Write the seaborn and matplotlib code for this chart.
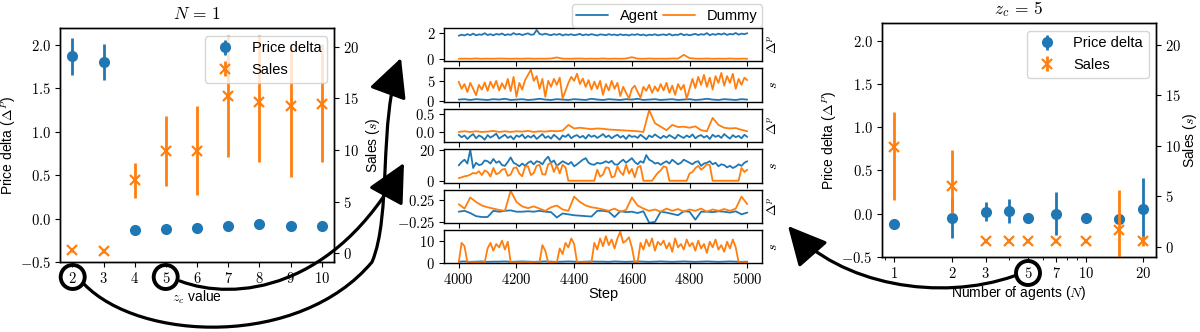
import numpy as np
import matplotlib
matplotlib.use("Agg")
import matplotlib.pyplot as plt
import seaborn as sns
from matplotlib.path import Path
from matplotlib.patches import FancyArrowPatch, Ellipse

# ---------------- data: left panel (N = 1) ----------------
zc_values = [2, 3, 4, 5, 6, 7, 8, 9, 10]
left_price = [1.866, 1.80, -0.128, -0.12, -0.11, -0.08, -0.055, -0.085, -0.08]
left_price_err = [0.21, 0.21, 0.02, 0.02, 0.02, 0.02, 0.02, 0.02, 0.02]
left_sales = [0.3, 0.26, 7.1, 9.9, 9.9, 15.2, 14.6, 14.3, 14.5]
left_sales_err_lo = [0.2, 0.2, 1.7, 3.4, 4.3, 5.85, 5.8, 6.9, 5.7]
left_sales_err_hi = [0.2, 0.2, 1.6, 3.4, 4.4, 5.9, 6.5, 6.0, 5.8]

# ---------------- data: right panel (z_c = 5) ----------------
n_agents = [1, 2, 3, 4, 5, 7, 10, 15, 20]
right_price = [-0.12, -0.05, 0.025, 0.03, -0.05, 0.0, -0.055, -0.06, 0.06]
right_price_err = [0.02, 0.23, 0.105, 0.135, 0.02, 0.25, 0.02, 0.02, 0.355]
right_sales = [9.9, 6.05, 0.6, 0.6, 0.6, 0.6, 0.6, 1.65, 0.6]
right_sales_err_lo = [5.3, 2.7, 0.2, 0.2, 0.2, 0.2, 0.2, 3.95, 0.5]
right_sales_err_hi = [3.5, 3.55, 0.2, 0.2, 0.2, 0.2, 0.2, 3.95, 0.5]

# ---------------- data: middle time series ----------------
steps10 = list(range(4000, 5001, 10))
steps20 = list(range(4000, 5001, 20))

p1_agent = [1.76, 1.84, 1.78, 1.88, 1.80, 1.92, 1.79, 1.86, 1.83, 1.95, 1.81,
            1.88, 1.79, 1.90, 1.84, 1.93, 1.80, 1.87, 1.82, 1.96, 1.85,
            1.90, 1.81, 1.88, 1.94, 1.83, 1.86, 2.20, 1.90, 1.84, 1.92,
            1.85, 1.80, 1.88, 1.83, 1.90, 1.78, 1.86, 1.82, 1.87, 1.80,
            1.84, 1.90, 1.79, 1.86, 1.81, 1.88, 1.83, 1.78, 1.86, 1.84,
            1.80, 1.88, 1.82, 1.85, 1.79, 1.87, 1.81, 1.84, 1.78, 1.86,
            1.82, 1.88, 1.80, 1.85, 1.77, 1.84, 1.81, 1.87, 1.79, 1.83,
            1.86, 1.80, 1.90, 1.78, 1.84, 1.82, 1.92, 1.80, 1.86, 1.79,
            1.85, 1.90, 1.81, 1.88, 1.84, 1.96, 1.80, 1.89, 1.83, 1.92,
            1.85, 1.94, 1.82, 1.90, 1.86, 1.97, 1.84, 1.92, 1.88, 1.95]
p1_dummy = [0.0, 0.01, 0.0, 0.02, 0.0, 0.01, 0.0, 0.02, 0.01, 0.0,
            0.01, 0.0, 0.02, 0.0, 0.01, 0.0, 0.02, 0.10, 0.01, 0.0,
            0.01, 0.02, 0.0, 0.01, 0.0, 0.02, 0.0, 0.01, 0.0, 0.02,
            0.12, 0.01, 0.0, 0.02, 0.0, 0.01, 0.0, 0.02, 0.01, 0.30,
            0.05, 0.01, 0.0, 0.02, 0.0, 0.01, 0.0, 0.02, 0.0, 0.01,
            0.0]

p2_agent = [0.3, 0.4, 0.2, 0.4, 0.3, 0.2, 0.4, 0.3, 0.5, 0.2,
            0.3, 0.4, 0.2, 0.3, 0.5, 0.3, 0.2, 0.4, 0.3, 0.2,
            0.4, 0.3, 0.2, 0.5, 0.3, 0.2, 0.4, 0.3, 0.2, 0.4,
            0.3, 0.5, 0.2, 0.3, 0.4, 0.2, 0.3, 0.4, 0.2, 0.3,
            0.4, 0.2, 0.3, 0.5, 0.3, 0.2, 0.4, 0.3, 0.2, 0.4,
            0.3]
p2_dummy = [4.8, 3.0, 4.2, 2.2, 4.5, 3.0, 1.4, 4.0, 2.8, 4.6, 2.5,
            4.8, 3.2, 5.0, 2.6, 4.4, 3.0, 5.5, 2.4, 6.0, 1.0,
            4.5, 2.8, 5.2, 6.5, 7.8, 5.0, 6.2, 3.0, 5.5, 1.0,
            5.0, 3.5, 5.5, 4.0, 5.8, 0.6, 2.5, 4.5, 6.0, 5.0,
            6.8, 4.2, 5.6, 3.5, 5.2, 2.8, 4.8, 3.0, 5.0, 1.5,
            4.2, 2.6, 5.0, 3.0, 4.5, 1.2, 3.5, 2.0, 0.6, 3.0,
            3.8, 2.2, 0.8, 3.5, 2.5, 4.0, 2.0, 3.6, 2.4, 4.2,
            2.6, 4.5, 2.0, 3.8, 1.5, 4.2, 2.8, 4.0, 0.5, 3.0,
            5.5, 3.2, 6.0, 4.0, 6.5, 3.5, 5.8, 2.8, 6.2, 4.5,
            7.0, 3.8, 6.2, 4.5, 6.8, 3.0, 5.5, 4.0, 5.8, 5.2]

p3_agent = [-0.08, -0.15, -0.10, -0.20, -0.12, -0.06, -0.18, -0.10, -0.14, -0.22, -0.09,
            -0.16, -0.11, -0.05, -0.19, -0.13, -0.08, -0.17, -0.12, -0.21, -0.10,
            -0.14, -0.07, -0.18, -0.11, -0.16, -0.09, -0.20, -0.13, -0.06, -0.17,
            -0.12, -0.19, -0.08, -0.15, -0.22, -0.10, -0.14, -0.07, -0.18, -0.12,
            -0.09, -0.16, -0.11, -0.19, -0.08, -0.14, -0.10, -0.17, -0.12, -0.06,
            -0.15, -0.10, -0.18, -0.12, -0.08, -0.16, -0.11, -0.20, -0.09, -0.14,
            -0.12, -0.17, -0.08, -0.14, -0.21, -0.10, -0.15, -0.07, -0.13, -0.18,
            -0.11, -0.16, -0.09, -0.14, -0.19, -0.08, -0.13, -0.17, -0.10, -0.15,
            -0.07, -0.18, -0.12, -0.09, -0.16, -0.11, -0.20, -0.08, -0.14, -0.10,
            -0.17, -0.06, -0.13, -0.19, -0.09, -0.15, -0.11, -0.18, -0.08, -0.14]
p3_dummy = [0.0, 0.02, 0.0, 0.02, 0.0, 0.01, 0.03, 0.0, 0.02, 0.0,
            0.02, 0.01, 0.03, 0.0, 0.02, 0.01, 0.03, 0.02, 0.04, 0.20,
            0.10, 0.12, 0.10, 0.08, 0.10, 0.09, 0.07, 0.06, 0.05, 0.04,
            0.03, 0.02, 0.0, 0.62, 0.25, 0.15, 0.05, 0.20, 0.14, 0.15,
            0.12, 0.16, 0.05, 0.02, 0.40, 0.20, 0.12, 0.10, 0.11, 0.06,
            0.02]

p4_agent = [10.3, 12.5, 14.0, 11.5, 20.4, 8.6, 12.0, 10.5, 11.0, 13.5, 13.0,
            11.5, 14.5, 12.0, 13.0, 10.5, 10.0, 12.5, 15.5, 12.0, 11.0,
            9.7, 11.5, 10.0, 12.0, 13.0, 11.0, 13.0, 12.5, 11.0, 14.0,
            16.0, 12.0, 13.5, 10.0, 11.5, 13.0, 12.0, 11.0, 12.5, 9.7,
            11.0, 12.5, 14.0, 15.0, 12.0, 11.0, 10.7, 12.0, 11.5, 12.0,
            13.0, 12.0, 13.3, 11.0, 10.7, 12.5, 14.0, 12.0, 13.5, 15.0,
            12.5, 11.0, 13.0, 12.0, 17.0, 14.0, 13.0, 11.5, 12.0, 10.7,
            12.0, 13.0, 11.5, 14.0, 12.5, 11.0, 12.0, 14.0, 13.0, 12.0,
            11.0, 12.5, 13.0, 10.0, 11.5, 12.0, 13.0, 11.0, 12.0, 9.7,
            11.0, 10.5, 9.0, 10.0, 8.6, 9.5, 11.0, 10.0, 12.0, 13.0]
p4_dummy = [2.0, 2.5, 3.2, 3.5, 4.3, 5.4, 5.0, 6.5, 4.0, 7.0, 6.0,
            3.0, 8.6, 4.5, 5.4, 7.5, 8.0, 3.5, 4.3, 8.5, 9.0,
            5.0, 3.2, 9.5, 9.7, 4.0, 5.4, 10.0, 10.7, 4.5, 4.3,
            11.0, 11.8, 6.0, 10.3, 5.0, 10.7, 9.0, 0.3, 0.3, 0.3,
            0.3, 0.3, 0.3, 0.3, 0.3, 0.3, 0.3, 7.5, 3.0, 4.3,
            9.0, 8.6, 2.5, 3.2, 9.7, 6.0, 4.0, 10.7, 5.0, 8.0,
            2.5, 9.0, 10.0, 0.3, 0.3, 0.3, 0.3, 3.0, 5.5, 7.0,
            9.7, 9.0, 0.3, 0.3, 0.3, 0.3, 0.3, 0.3, 0.3, 5.0,
            6.0, 8.5, 10.0, 7.5, 9.0, 11.0, 10.5, 0.3, 0.3, 0.3,
            0.3, 0.3, 0.3, 0.3, 0.3, 0.3, 0.3, 8.6, 6.0, 7.5]

p5_agent = [-0.02, 0.0, -0.05, -0.12, -0.14, -0.14, 0.0, -0.02, 0.0, 0.01,
            -0.02, -0.02, -0.01, -0.02, 0.0, -0.02, -0.03, -0.15, -0.06, -0.08,
            -0.10, -0.11, -0.12, -0.13, 0.0, 0.0, -0.02, -0.14, -0.01, -0.03,
            -0.02, -0.05, -0.01, -0.27, -0.25, -0.02, -0.04, -0.07, -0.10, -0.01,
            -0.02, -0.20, -0.02, -0.02, -0.03, -0.01, -0.02, -0.04, -0.01, -0.08,
            -0.04]
p5_dummy = [0.15, 0.05, 0.30, 0.20, 0.12, 0.08, 0.05, 0.02, 0.0, 0.45,
            0.20, 0.10, 0.06, 0.10, 0.05, 0.0, 0.08, 0.12, 0.03, 0.0,
            0.32, 0.20, 0.12, 0.08, 0.06, 0.03, 0.0, 0.05, -0.02, 0.02,
            0.30, 0.12, 0.05, 0.0, 0.03, -0.02, 0.05, 0.0, 0.04, -0.02,
            0.03, 0.0, 0.05, -0.02, 0.03, 0.0, 0.04, 0.0, 0.05, 0.32,
            0.15]

p6_agent = [0.6, 0.7, 0.5, 0.6, 0.7, 0.5, 0.6, 0.6, 0.7, 0.5,
            0.6, 0.7, 0.6, 0.5, 0.6, 0.7, 0.6, 0.5, 0.6, 0.7,
            0.6, 0.5, 0.6, 0.7, 0.6, 0.6, 0.5, 0.7, 0.6, 0.5,
            0.6, 0.7, 0.6, 0.5, 0.6, 0.7, 0.6, 0.5, 0.6, 0.7,
            0.6, 0.5, 0.6, 0.7, 0.6, 0.5, 0.6, 0.7, 0.6, 0.5,
            0.6]
p6_dummy = [0.3, 9.0, 7.5, 0.3, 0.3, 0.3, 0.3, 0.3, 0.3, 0.3, 6.5,
            9.0, 5.5, 8.5, 7.0, 10.0, 6.0, 9.5, 0.3, 0.3, 0.3,
            0.3, 0.3, 0.3, 0.3, 0.3, 0.3, 0.3, 0.3, 8.0, 5.5,
            0.3, 0.3, 0.3, 0.3, 6.5, 4.0, 9.0, 7.0, 11.0, 8.5,
            0.3, 0.3, 0.3, 0.3, 0.3, 0.3, 9.0, 6.0, 11.0, 7.5,
            12.0, 8.0, 10.5, 6.5, 11.0, 14.0, 9.0, 10.0, 11.5, 7.0,
            0.3, 0.3, 9.0, 6.0, 10.5, 7.5, 11.0, 5.5, 9.5, 8.0,
            10.0, 6.5, 9.0, 5.0, 11.0, 7.0, 8.5, 6.0, 10.5, 7.5,
            9.0, 5.5, 10.0, 6.5, 8.5, 4.5, 9.5, 7.0, 10.5, 6.0,
            8.0, 5.0, 9.5, 6.5, 10.5, 7.0, 0.3, 0.3, 0.3, 0.3]

mid_yticks = [[0, 2], [0, 5], [0.0, 0.5], [0, 20], [-0.25, 0.25], [0, 10]]
mid_ylabels = [r"$\Delta^p$", r"$s$"] * 3
step_ticks = [4000, 4200, 4400, 4600, 4800, 5000]
price_ticks = [-0.5, 0.0, 0.5, 1.0, 1.5, 2.0]
sales_ticks = [0, 5, 10, 15, 20]
n_ticks = [1, 2, 3, 5, 7, 10, 20]

# ---------------- style ----------------
sns.set_style("ticks", {"axes.edgecolor": "black", "xtick.color": "black",
                        "ytick.color": "black", "text.color": "black",
                        "axes.labelcolor": "black"})
plt.rcParams["font.family"] = ["Liberation Sans", "DejaVu Sans"]
plt.rcParams["mathtext.fontset"] = "cm"
plt.rcParams["font.size"] = 10
plt.rcParams["axes.linewidth"] = 1.0
plt.rcParams["ytick.major.pad"] = 3
plt.rcParams["xtick.major.pad"] = 3

C0, C1 = "#1f77b4", "#ff7f0e"
FS = 10.5    # tick labels (math / serif)
LFS = 10     # text labels


def mfmt(v, dec):
    return "$" + (f"{v:.{dec}f}") + "$"


fig = plt.figure(figsize=(12, 3.32), dpi=100)
W, H = 1200.0, 332.0


def fx(px):
    return px / W


def fy(py):
    return 1 - py / H


# ---------------- left panel ----------------
axL = fig.add_axes([fx(60), fy(262.3), (334.3 - 60) / W, (262.3 - 28.3) / H])
axL.errorbar(zc_values, left_price, yerr=left_price_err, fmt="o", color=C0,
             ms=7, elinewidth=2, label="Price delta")
axL2 = axL.twinx()
axL2.errorbar(zc_values, left_sales, yerr=[left_sales_err_lo, left_sales_err_hi],
              fmt="x", color=C1, ms=7, mew=1.6, elinewidth=2, label="Sales")
axL.set_xlim(1.6, 10.4)
axL.set_ylim(-0.5, 2.19)
axL2.set_ylim(-0.87, 21.78)
axL.set_xticks(zc_values, [mfmt(v, 0) for v in zc_values], fontsize=FS)
axL.set_yticks(price_ticks, [mfmt(v, 1) for v in price_ticks], fontsize=FS)
axL2.set_yticks(sales_ticks, [mfmt(v, 0) for v in sales_ticks], fontsize=FS)
axL.set_xlabel(r"$z_c$ value", fontsize=LFS, labelpad=2)
axL.set_ylabel(r"Price delta ($\Delta^P$)", fontsize=LFS, labelpad=1)
axL2.set_ylabel(r"Sales ($s$)", fontsize=LFS, labelpad=3)
axL.set_title(r"$N\,=\,1$", fontsize=12.5, pad=7)
h1, l1 = axL.get_legend_handles_labels()
h2, l2 = axL2.get_legend_handles_labels()
axL2.legend(h1 + h2, l1 + l2, loc="upper right", fontsize=LFS + 0.5)

# ---------------- right panel ----------------
axR = fig.add_axes([fx(881.7), fy(257), (1156 - 881.7) / W, (257 - 23.3) / H])
axR.errorbar(n_agents, right_price, yerr=right_price_err, fmt="o", color=C0,
             ms=7, elinewidth=2, label="Price delta")
axR2 = axR.twinx()
axR2.errorbar(n_agents, right_sales, yerr=[right_sales_err_lo, right_sales_err_hi],
              fmt="x", color=C1, ms=7, mew=1.6, elinewidth=2, label="Sales")
axR.set_xscale("log")
axR.set_xlim(0.86, 23.3)
axR.set_ylim(-0.5, 2.2)
axR2.set_ylim(-1.0, 22.15)
axR.set_xticks(n_ticks, [mfmt(v, 0) for v in n_ticks], fontsize=FS)
axR.xaxis.set_minor_formatter(matplotlib.ticker.NullFormatter())
axR.set_yticks(price_ticks, [mfmt(v, 1) for v in price_ticks], fontsize=FS)
axR2.set_yticks(sales_ticks, [mfmt(v, 0) for v in sales_ticks], fontsize=FS)
axR.set_xlabel(r"Number of agents ($N$)", fontsize=LFS, labelpad=2)
axR.set_ylabel(r"Price delta ($\Delta^P$)", fontsize=LFS, labelpad=2)
axR2.set_ylabel(r"Sales ($s$)", fontsize=LFS, labelpad=0)
axR.set_title(r"$z_c\,=\,5$", fontsize=12.5, pad=7)
h1, l1 = axR.get_legend_handles_labels()
h2, l2 = axR2.get_legend_handles_labels()
axR2.legend(h1 + h2, l1 + l2, loc="upper right", fontsize=LFS + 0.5)

# ---------------- middle panels ----------------
gs = fig.add_gridspec(6, 1, left=fx(444.3), right=fx(761.7), top=fy(28),
                      bottom=fy(263.3), hspace=0.21)
series = [
    (steps10, p1_agent, steps20, p1_dummy),
    (steps20, p2_agent, steps10, p2_dummy),
    (steps10, p3_agent, steps20, p3_dummy),
    (steps10, p4_agent, steps10, p4_dummy),
    (steps20, p5_agent, steps20, p5_dummy),
    (steps20, p6_agent, steps10, p6_dummy),
]
ylims = [(-0.2, 2.35), (-0.25, 8.14), (-0.29, 0.66), (-0.86, 20.86),
         (-0.273, 0.48), (-0.15, 14.8)]
decs = [0, 0, 1, 0, 2, 0]
mid_axes = []
for i, (xa, ya, xd, yd) in enumerate(series):
    ax = fig.add_subplot(gs[i, 0], sharex=mid_axes[0] if mid_axes else None)
    sns.lineplot(x=xa, y=ya, ax=ax, color=C0, linewidth=1.3, label="Agent")
    sns.lineplot(x=xd, y=yd, ax=ax, color=C1, linewidth=1.3, label="Dummy")
    if ax.get_legend() is not None:
        ax.get_legend().remove()
    ax.set_ylim(*ylims[i])
    ax.set_yticks(mid_yticks[i], [mfmt(v, decs[i]) for v in mid_yticks[i]], fontsize=FS)
    ax.yaxis.set_label_position("right")
    ax.set_ylabel(mid_ylabels[i], fontsize=10, labelpad=3)
    ax.set_xlabel("")
    if i < 5:
        ax.tick_params(labelbottom=False)
    mid_axes.append(ax)

mid_axes[0].set_xlim(3950, 5050)
mid_axes[-1].set_xticks(step_ticks, [mfmt(v, 0) for v in step_ticks], fontsize=FS)
mid_axes[-1].set_xlabel("Step", fontsize=LFS + 0.5, labelpad=0)
hm, lm = mid_axes[0].get_legend_handles_labels()
mid_axes[0].legend(hm, lm, loc="lower right", bbox_to_anchor=(1.0, 1.03), ncol=2,
                   fontsize=LFS + 0.5, borderaxespad=0.0, columnspacing=0.3,
                   handlelength=2.2, handletextpad=0.8, borderpad=0.3)

# ---------------- hand-drawn style annotations ----------------
def pt(px, py):
    return (fx(px), fy(py))


for (cx, cy) in [(72.7, 277), (165.7, 277), (1028, 273)]:
    fig.add_artist(Ellipse(pt(cx, cy), width=24 / W, height=24 / H,
                           transform=fig.transFigure, fill=False,
                           lw=2.8, ec="black"))

curves = [
    [(84, 284), (140, 342), (300, 348), (372, 262), (392, 215), (378, 120), (401, 58)],
    [(180, 281), (235, 302), (335, 290), (404, 163)],
    [(1014, 276), (940, 302), (840, 285), (788, 226)],
]
for pts_ in curves:
    verts = [pt(*p) for p in pts_]
    codes = [Path.MOVETO] + [Path.CURVE4] * (len(verts) - 1)
    arr = FancyArrowPatch(path=Path(verts, codes),
                          arrowstyle="-|>,head_length=1.2,head_width=0.6",
                          mutation_scale=20, lw=2.3, color="black",
                          transform=fig.transFigure)
    fig.add_artist(arr)

fig.savefig("out.png", dpi=100)
